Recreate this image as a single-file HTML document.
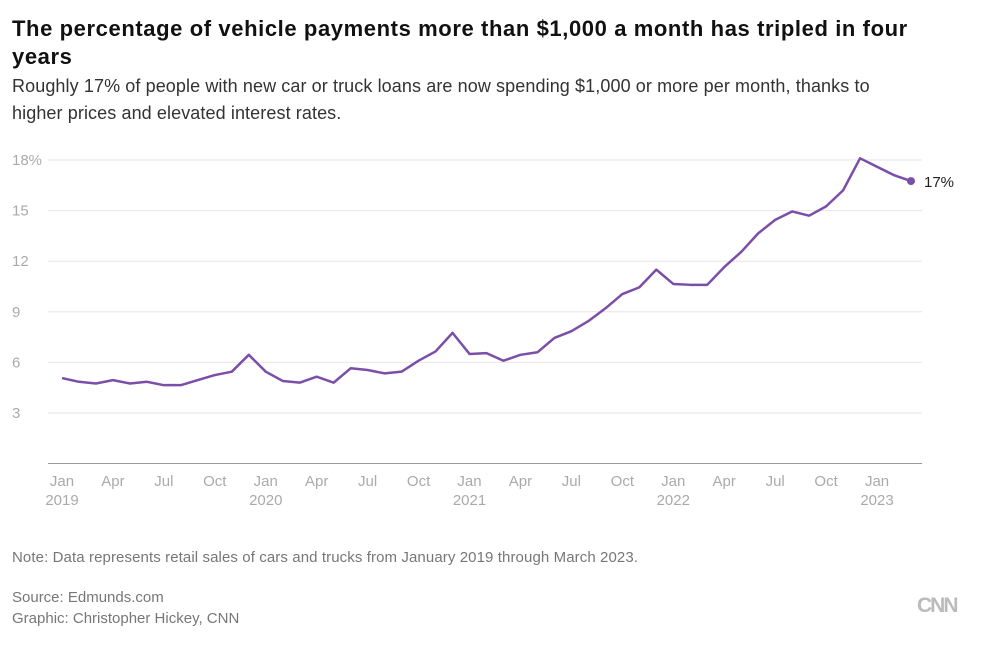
<!DOCTYPE html>
<html><head><meta charset="utf-8"><style>
body{margin:0;width:982px;height:649px;background:#fff;font-family:"Liberation Sans",sans-serif;position:relative;overflow:hidden}
#title{position:absolute;left:12px;top:15px;width:925px;font-size:22px;font-weight:bold;color:#111;line-height:28px;letter-spacing:0.6px}
#sub{position:absolute;left:12px;top:73px;width:910px;font-size:18px;color:#333;line-height:27px;letter-spacing:0.1px}
.ft{position:absolute;left:12px;font-size:15px;color:#777}
svg{position:absolute;left:0;top:0}
</style></head><body>
<div id="title">The percentage of vehicle payments more than $1,000 a month has tripled in four years</div>
<div id="sub">Roughly 17% of people with new car or truck loans are now spending $1,000 or more per month, thanks to higher prices and elevated interest rates.</div>
<svg id="chart" width="982" height="649"></svg>
<div class="ft" style="top:549px;letter-spacing:0.1px">Note: Data represents retail sales of cars and trucks from January 2019 through March 2023.</div>
<div class="ft" style="top:589px">Source: Edmunds.com</div>
<div class="ft" style="top:610px">Graphic: Christopher Hickey, CNN</div>
<div style="position:absolute;left:917px;top:594px;font-size:21px;font-weight:bold;color:#bbb;letter-spacing:-2px">CNN</div>
<script>
const values=[5.07,4.85,4.75,4.95,4.75,4.85,4.65,4.65,4.95,5.25,5.45,6.45,
5.45,4.9,4.8,5.15,4.8,5.65,5.55,5.35,5.45,6.1,6.65,7.75,
6.5,6.55,6.1,6.45,6.6,7.45,7.85,8.45,9.2,10.05,10.45,11.5,
10.65,10.6,10.6,11.65,12.55,13.65,14.45,14.95,14.7,15.25,16.2,18.1,
17.6,17.1,16.75];
const yTicks=[3,6,9,12,15,18];
const yTickLabels=["3","6","9","12","15","18%"];
const monthLabels=["Jan","Apr","Jul","Oct"];
const years=["2019","2020","2021","2022","2023"];
const lastLabel="17%";
const NS="http://www.w3.org/2000/svg";
const svg=document.getElementById('chart');
const x=i=>62+i*(911-62)/50;
const y=v=>463.6-v*(253/15);
function mk(t,a){const e=document.createElementNS(NS,t);for(const k in a)e.setAttribute(k,a[k]);svg.appendChild(e);return e;}
yTicks.forEach((t,i)=>{
 const g=mk('line',{x1:48,x2:922,y1:y(t),y2:y(t),stroke:'#e6e6e6','stroke-width':1});
 
 
 const l=mk('text',{x:12,y:y(t)+5,'font-size':15,fill:'#aaa'});
 l.textContent=yTickLabels[i];
 
 
});
const ax=mk('line',{x1:48,x2:922,y1:463.5,y2:463.5,stroke:'#999','stroke-width':1});


for(let i=0;i<values.length;i+=3){
 const t=mk('text',{x:x(i),y:486,'font-size':15,fill:'#aaa','text-anchor':'middle'});
 t.textContent=monthLabels[(i/3)%4];
 
 
 if(i%12===0){
  const yr=mk('text',{x:x(i),y:505,'font-size':15,fill:'#aaa','text-anchor':'middle'});
  yr.textContent=years[i/12];
  
  
 }
}
const p=mk('polyline',{points:values.map((v,i)=>x(i)+','+y(v)).join(' '),fill:'none',stroke:'#7b4ea8','stroke-width':2.5,'stroke-linejoin':'round'});


const n=values.length-1;
const d=mk('circle',{cx:x(n),cy:y(values[n]),r:4,fill:'#7b4ea8'});


const lt=mk('text',{x:x(n)+13,y:y(values[n])+6,'font-size':15,fill:'#222'});
lt.textContent=lastLabel;


</script>
</body></html>
